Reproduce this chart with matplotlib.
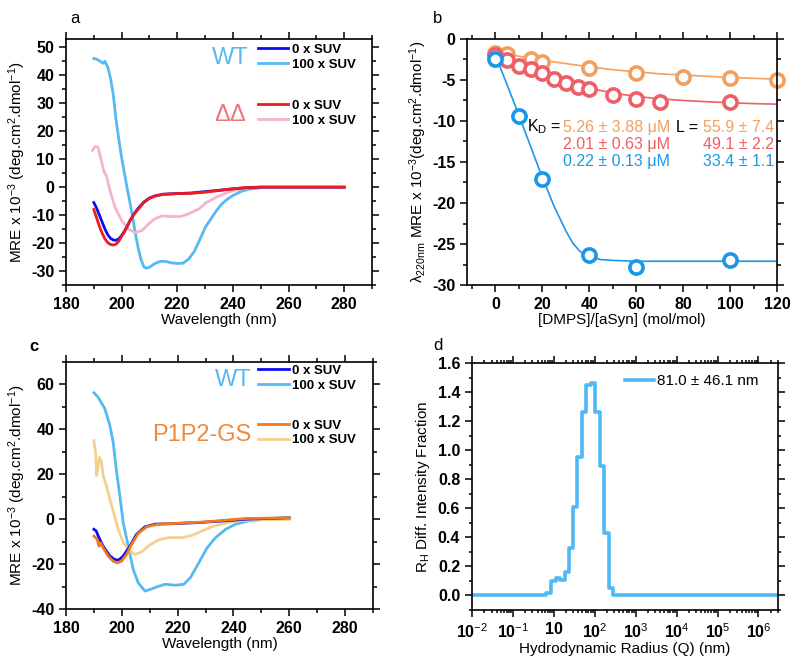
import numpy as np
import matplotlib
matplotlib.use("Agg")
import matplotlib.pyplot as plt
from matplotlib.lines import Line2D
from matplotlib.ticker import MultipleLocator, FixedLocator, LogLocator, NullFormatter

plt.rcParams['font.family'] = ['Liberation Sans', 'DejaVu Sans']
plt.rcParams['mathtext.fontset'] = 'custom'
plt.rcParams['mathtext.rm'] = 'Liberation Sans'
plt.rcParams['mathtext.it'] = 'Liberation Sans:italic'
plt.rcParams['mathtext.bf'] = 'Liberation Sans:bold'
plt.rcParams['axes.unicode_minus'] = False

# ---- panel a: CD spectra WT / DeltaDelta ----
wl_a_wt0 = [190, 191, 192, 193, 194, 195, 196, 197, 198, 199, 200, 201, 202, 203, 204, 205, 206,
            208, 210, 212, 215, 220, 225, 230, 235, 240, 245, 250, 260, 270, 280]
mre_a_wt0 = [-5.5, -7.5, -10, -12.5, -15, -17, -18.3, -18.9, -19, -18.5, -17.3, -15.8, -14, -12,
             -10.3, -8.8, -7.5, -5.3, -3.9, -3.1, -2.5, -2.3, -2.1, -1.6, -1.1, -0.6, -0.2, 0, 0, 0, 0]
wl_a_dd0 = [190, 191, 192, 193, 194, 195, 196, 197, 198, 199, 200, 201, 202, 203, 204, 205, 206,
            208, 210, 212, 215, 220, 225, 230, 235, 240, 245, 250, 260, 270, 280]
mre_a_dd0 = [-8, -11, -14, -16.5, -18.5, -19.8, -20.5, -20.7, -20.4, -19.3, -17.6, -16, -14, -12,
             -10.4, -9, -7.8, -5.5, -4, -3.2, -2.6, -2.3, -2.2, -1.8, -1.2, -0.6, -0.1, 0, 0, 0, 0]
wl_a_wt100 = [190, 191, 192, 193, 193.5, 194, 195, 196, 197, 198, 199, 200, 201, 202, 203, 204,
              205, 206, 207, 208, 209, 210, 212, 214, 216, 218, 220, 222, 224, 226, 228, 230,
              232, 234, 236, 238, 240, 243, 246, 250]
mre_a_wt100 = [46, 45.8, 45.2, 44.5, 44.3, 45, 43, 39, 33, 24, 17, 10.5, 5, -0.5, -5.5, -11,
               -17, -22, -26, -28.5, -29, -28.6, -27.3, -26.5, -26.6, -27.1, -27.3, -27.2, -25.8,
               -23.2, -19, -14.5, -11.5, -8.5, -6, -4.3, -3, -1.5, -0.7, -0.2]
wl_a_dd100 = [189.5, 190.5, 191.5, 192.7, 193.7, 194.5, 195.8, 197.6, 200, 202.4, 204.8, 207.3,
              209.7, 212, 214.5, 218.2, 221.2, 224.2, 227.9, 230.3, 234, 237.6, 241, 246, 250,
              260, 270, 280]
mre_a_dd100 = [13.1, 14.6, 14.3, 9.5, 5.4, 4.2, -1.2, -7.1, -11.9, -14.9, -16.3, -15.5, -13.1,
               -11.3, -10.3, -10.5, -10.5, -9.5, -7.7, -5.6, -3.6, -2, -1, -0.2, 0, 0, 0, 0]

# ---- panel b: titration at 220 nm ----
ratio_gs = [0, 5, 15, 20, 40, 60, 80, 100, 120]
mre_gs = [-1.7, -1.8, -2.5, -2.8, -3.5, -4.2, -4.6, -4.8, -5.0]
ratio_dd = [0, 5, 10, 15, 20, 25, 30, 35, 40, 50, 60, 70, 100]
mre_dd = [-2.0, -2.6, -3.3, -3.7, -4.1, -4.9, -5.4, -5.8, -6.1, -6.8, -7.3, -7.7, -7.7]
ratio_wt = [0, 10, 20, 40, 60, 100]
mre_wt = [-2.4, -9.4, -17.1, -26.3, -27.8, -26.9]

fit_x_gs = [0, 10, 20, 30, 40, 50, 60, 70, 80, 90, 100, 110, 120]
fit_y_gs = [-1.6, -2.1, -2.6, -3.0, -3.4, -3.75, -4.0, -4.25, -4.4, -4.55, -4.7, -4.8, -4.9]
fit_x_dd = [0, 5, 10, 15, 20, 25, 30, 35, 40, 50, 60, 70, 80, 90, 100, 110, 120]
fit_y_dd = [-2.0, -2.7, -3.3, -3.9, -4.4, -4.9, -5.3, -5.7, -6.0, -6.6, -7.0, -7.3, -7.5,
            -7.65, -7.78, -7.88, -7.95]
fit_x_wt = [0, 2, 5, 8, 10, 15, 20, 25, 30, 33, 36, 40, 45, 50, 60, 80, 100, 120]
fit_y_wt = [-2.0, -3.4, -5.6, -7.8, -9.3, -13.1, -16.9, -20.4, -23.4, -24.9, -25.9, -26.6,
            -26.9, -27.0, -27.1, -27.1, -27.1, -27.1]

kd_labels = ['5.26 ± 3.88 μM', '2.01 ± 0.63 μM', '0.22 ± 0.13 μM']
l_labels = ['55.9 ± 7.4', '49.1 ± 2.2', '33.4 ± 1.1']

# ---- panel c: CD spectra WT / P1P2-GS ----
wl_c_wt0 = [190, 190.8, 191.8, 193.3, 195.7, 197.5, 198.9, 200.5, 202.9, 205.3, 208.3, 212,
            218, 227.6, 237.2, 244.5, 260]
mre_c_wt0 = [-4.5, -5.2, -8.2, -12, -16.4, -18, -18.2, -16.4, -12, -6.7, -3.4, -2.2, -2, -1.5,
             -0.7, 0, 0.6]
wl_c_gs0 = [190, 191.2, 191.8, 192.4, 193.3, 195.1, 196.9, 198.4, 199.9, 201.7, 203.5, 205.9,
            208.9, 213.1, 220.4, 230, 238.4, 244.5, 260]
mre_c_gs0 = [-7.5, -9, -12, -10.5, -12.7, -16.4, -18.7, -19.4, -18.7, -15.7, -11.2, -6.3, -3.4,
             -2.2, -1.8, -1.2, -0.3, 0.3, 0.6]
wl_c_wt100 = [190, 191.4, 193.9, 195.7, 196.9, 198, 199.3, 200.5, 202.3, 204.1, 205.9, 208.3,
              210.1, 213.1, 215.5, 219.2, 222.2, 224.6, 227.6, 230.6, 233.6, 237.2, 240.8, 245.7,
              249.3]
mre_c_wt100 = [56.3, 54.5, 49.3, 41.8, 34.3, 22.4, 10.4, -1.5, -12, -22.4, -28.4, -32, -31.3,
               -29.9, -29, -29.4, -29, -26, -19.4, -12.7, -8.2, -4.5, -2.2, -0.7, -0.3]
wl_c_gs100 = [190, 190.6, 191, 191.4, 192, 192.7, 193.3, 194.5, 195.7, 196.9, 198.7, 200.5,
              202.9, 204.7, 207.1, 209.5, 213.1, 216.7, 221.6, 225.2, 228.8, 232.4, 237.2, 242.1,
              246.9, 260]
mre_c_gs100 = [35, 29.9, 19.4, 22.4, 27.6, 25.4, 19.4, 14.9, 9, 3.7, -4.5, -10.4, -14.2, -15.7,
               -14.6, -11.9, -9.3, -8.2, -8.2, -7.2, -5.2, -3.3, -1.8, -0.7, -0.3, -0.1]

# ---- panel d: DLS size distribution ----
rh_edges = [0.1, 6.5, 8.6, 11.0, 14.4, 18.3, 23.4, 29.3, 37.6, 47.9, 62.5, 79.4, 104, 132, 169,
            221, 281, 3e6]
rh_frac = [0, 0.02, 0.10, 0.12, 0.11, 0.16, 0.33, 0.61, 0.95, 1.26, 1.45, 1.46, 1.26, 0.89,
           0.43, 0.05, 0, 0]
d_xtick_labels = ['10$^{-2}$', '10$^{-1}$', '10', '10$^{2}$', '10$^{3}$', '10$^{4}$',
                  '10$^{5}$', '10$^{6}$']

C_DBLUE = '#0c0cf0'
C_LBLUE = '#55b9f2'
C_RED = '#ee1c1c'
C_PINK = '#f6b3cb'
C_ORANGE = '#f07a20'
C_YELLOW = '#f1d190'
C_B_ORANGE = '#f2a060'
C_B_RED = '#ee5f66'
C_B_BLUE = '#1b97e8'
LW = 2.0


def style_axes(ax):
    for sp in ax.spines.values():
        sp.set_linewidth(1.2)
    ax.tick_params(which='both', direction='out', top=True, right=True, width=1.1,
                   labelsize=11.5)
    ax.tick_params(which='major', length=5)
    ax.tick_params(which='minor', length=3)
    for lab in ax.get_xticklabels() + ax.get_yticklabels():
        lab.set_fontweight('bold')


fig = plt.figure(figsize=(8, 6.65), dpi=100)
ax_a = fig.add_axes([0.0825, 0.5714, 0.3825, 0.37])
ax_b = fig.add_axes([0.584, 0.5714, 0.3875, 0.37])
ax_c = fig.add_axes([0.0825, 0.0842, 0.3837, 0.3714])
ax_d = fig.add_axes([0.590, 0.0827, 0.3825, 0.3713])

cd_ylabel = r'MRE x 10$^{-3}$ (deg.cm$^{2}$.dmol$^{-1}$)'

# panel a
ax_a.plot(wl_a_wt100, mre_a_wt100, color=C_LBLUE, lw=LW)
ax_a.plot(wl_a_dd100, mre_a_dd100, color=C_PINK, lw=LW)
ax_a.plot(wl_a_wt0, mre_a_wt0, color=C_DBLUE, lw=LW)
ax_a.plot(wl_a_dd0, mre_a_dd0, color=C_RED, lw=LW)
ax_a.set_xlim(180, 290)
ax_a.set_ylim(-35, 53)
ax_a.xaxis.set_major_locator(MultipleLocator(20))
ax_a.xaxis.set_minor_locator(MultipleLocator(10))
ax_a.yaxis.set_major_locator(MultipleLocator(10))
ax_a.yaxis.set_minor_locator(MultipleLocator(5))
ax_a.set_xlabel('Wavelength (nm)', fontsize=11, labelpad=1)
ax_a.set_ylabel(cd_ylabel, fontsize=11, labelpad=2)
style_axes(ax_a)

leg_kw = dict(frameon=False, handlelength=2.3, handletextpad=0.25, labelspacing=0.2,
              borderaxespad=0, borderpad=0, loc='upper left',
              prop={'size': 9.5, 'weight': 'bold'})
la1 = ax_a.legend([Line2D([], [], color=C_DBLUE, lw=LW), Line2D([], [], color=C_LBLUE, lw=LW)],
                  ['0 x SUV', '100 x SUV'], bbox_to_anchor=(0.627, 0.982), **leg_kw)
ax_a.add_artist(la1)
ax_a.legend([Line2D([], [], color=C_RED, lw=LW), Line2D([], [], color=C_PINK, lw=LW)],
            ['0 x SUV', '100 x SUV'], bbox_to_anchor=(0.627, 0.754), **leg_kw)
ax_a.text(0.536, 0.923, 'WT', color=C_LBLUE, fontsize=17, ha='center', va='center',
          transform=ax_a.transAxes)
ax_a.text(0.536, 0.693, 'ΔΔ', color='#f27380', fontsize=17, ha='center', va='center',
          transform=ax_a.transAxes)

# panel b
ax_b.plot(fit_x_gs, fit_y_gs, color=C_B_ORANGE, lw=1.2)
ax_b.plot(fit_x_dd, fit_y_dd, color=C_B_RED, lw=1.2)
ax_b.plot(fit_x_wt, fit_y_wt, color=C_B_BLUE, lw=1.2)
mk = dict(ls='none', marker='o', ms=9.5, mew=2.6, mfc='white', clip_on=False)
ax_b.plot(ratio_gs, mre_gs, mec=C_B_ORANGE, **mk)
ax_b.plot(ratio_dd, mre_dd, mec=C_B_RED, **mk)
ax_b.plot(ratio_wt, mre_wt, mec=C_B_BLUE, **mk)
ax_b.set_xlim(-12, 120)
ax_b.set_ylim(-30, 0)
ax_b.xaxis.set_major_locator(MultipleLocator(20))
ax_b.xaxis.set_minor_locator(MultipleLocator(10))
ax_b.yaxis.set_major_locator(MultipleLocator(5))
ax_b.yaxis.set_minor_locator(MultipleLocator(2.5))
ax_b.set_xlabel('[DMPS]/[aSyn] (mol/mol)', fontsize=11, labelpad=1)
ax_b.set_ylabel(r'λ$_{\mathrm{220nm}}$ MRE x 10$^{-3}$(deg.cm$^{2}$.dmol$^{-1}$)',
                fontsize=11, labelpad=2)
style_axes(ax_b)
row_y = [0.642, 0.572, 0.502]
row_c = [C_B_ORANGE, C_B_RED, C_B_BLUE]
ax_b.text(0.302, row_y[0], r'K$_{\mathrm{D}}$ =', fontsize=11.5, ha='right', va='center',
          transform=ax_b.transAxes)
ax_b.text(0.745, row_y[0], 'L =', fontsize=11.5, ha='right', va='center',
          transform=ax_b.transAxes)
for yy, cc, kd, ll in zip(row_y, row_c, kd_labels, l_labels):
    ax_b.text(0.31, yy, kd, color=cc, fontsize=11.5, ha='left', va='center',
              transform=ax_b.transAxes)
    ax_b.text(0.99, yy, ll, color=cc, fontsize=11.5, ha='right', va='center',
              transform=ax_b.transAxes)

# panel c
ax_c.plot(wl_c_wt100, mre_c_wt100, color=C_LBLUE, lw=LW)
ax_c.plot(wl_c_gs100, mre_c_gs100, color=C_YELLOW, lw=LW)
ax_c.plot(wl_c_wt0, mre_c_wt0, color=C_DBLUE, lw=LW)
ax_c.plot(wl_c_gs0, mre_c_gs0, color=C_ORANGE, lw=LW)
ax_c.set_xlim(180, 290)
ax_c.set_ylim(-40, 70)
ax_c.xaxis.set_major_locator(MultipleLocator(20))
ax_c.xaxis.set_minor_locator(MultipleLocator(10))
ax_c.yaxis.set_major_locator(MultipleLocator(20))
ax_c.yaxis.set_minor_locator(MultipleLocator(10))
ax_c.set_xlabel('Wavelength (nm)', fontsize=11, labelpad=1)
ax_c.set_ylabel(cd_ylabel, fontsize=11, labelpad=2)
style_axes(ax_c)
lc1 = ax_c.legend([Line2D([], [], color=C_DBLUE, lw=LW), Line2D([], [], color=C_LBLUE, lw=LW)],
                  ['0 x SUV', '100 x SUV'], bbox_to_anchor=(0.627, 0.99), **leg_kw)
ax_c.add_artist(lc1)
ax_c.legend([Line2D([], [], color=C_ORANGE, lw=LW), Line2D([], [], color=C_YELLOW, lw=LW)],
            ['0 x SUV', '100 x SUV'], bbox_to_anchor=(0.627, 0.768), **leg_kw)
ax_c.text(0.544, 0.927, 'WT', color=C_LBLUE, fontsize=17, ha='center', va='center',
          transform=ax_c.transAxes)
ax_c.text(0.443, 0.704, 'P1P2-GS', color='#f08a3a', fontsize=17, ha='center', va='center',
          transform=ax_c.transAxes)

# panel d
ax_d.plot(rh_edges, rh_frac, drawstyle='steps-post', color='#4fb9f7', lw=2.6,
          label='81.0 ± 46.1 nm')
ax_d.set_xscale('log')
ax_d.set_xlim(0.1, 3e6)
ax_d.set_ylim(-0.1, 1.6)
ax_d.xaxis.set_major_locator(FixedLocator([0.1, 1, 10, 100, 1e3, 1e4, 1e5, 1e6]))
ax_d.set_xticklabels(d_xtick_labels)
ax_d.xaxis.set_minor_locator(LogLocator(base=10, subs=np.arange(2, 10), numticks=20))
ax_d.xaxis.set_minor_formatter(NullFormatter())
ax_d.yaxis.set_major_locator(MultipleLocator(0.2))
ax_d.yaxis.set_minor_locator(MultipleLocator(0.1))
ax_d.yaxis.set_major_formatter(matplotlib.ticker.FormatStrFormatter('%.1f'))
ax_d.set_xlabel('Hydrodynamic Radius (Q) (nm)', fontsize=11, labelpad=1)
ax_d.set_ylabel(r'R$_{\mathrm{H}}$ Diff. Intensity Fraction', fontsize=11, labelpad=4)
style_axes(ax_d)
ax_d.tick_params(which='minor', length=2.5)
ax_d.legend(loc='upper right', bbox_to_anchor=(0.935, 0.955), frameon=False,
            handlelength=1.9, handletextpad=0.15, borderaxespad=0, borderpad=0,
            prop={'size': 11})

# panel letters
fig.text(0.094, 0.972, 'a', fontsize=12, ha='center', va='center')
fig.text(0.547, 0.972, 'b', fontsize=12, ha='center', va='center')
fig.text(0.042, 0.479, 'c', fontsize=12, fontweight='bold', ha='center', va='center')
fig.text(0.547, 0.481, 'd', fontsize=12, ha='center', va='center')

fig.savefig('out.png', dpi=100, facecolor='white')
